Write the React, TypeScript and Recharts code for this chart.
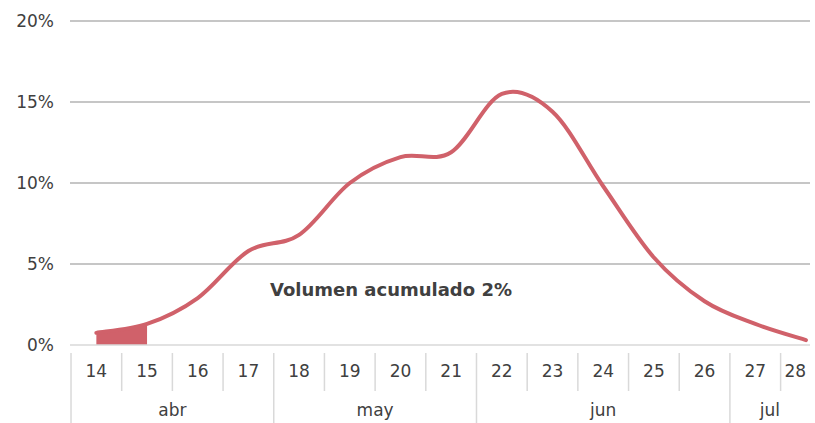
import { ComposedChart, Line, Area, XAxis, YAxis, ReferenceLine } from 'recharts';

// ---- data ----
const DAYS = [14, 15, 16, 17, 18, 19, 20, 21, 22, 23, 24, 25, 26, 27, 28];
const VOLUME = [0.75, 1.3, 2.9, 5.8, 6.8, 10.0, 11.6, 11.9, 15.5, 14.4, 9.8, 5.4, 2.7, 1.3, 0.3];
const ACCUMULATED_DAYS = [14, 15];
const Y_TICKS = [0, 5, 10, 15, 20];
const MONTHS = [
  { label: 'abr', from: 14, to: 17 },
  { label: 'may', from: 18, to: 21 },
  { label: 'jun', from: 22, to: 26 },
  { label: 'jul', from: 27, to: 28 },
];
const NOTE = 'Volumen acumulado 2%';

const data = DAYS.map((day, i) => ({
  day,
  volume: VOLUME[i],
  acc: ACCUMULATED_DAYS.includes(day) ? VOLUME[i] : null,
}));

// ---- layout ----
const W = 815;
const H = 423;
const LEFT = 70;
const RIGHT = 5;
const TOP = 21;
const AXIS_H = 78;
const X_MIN = 13.48;
const X_MAX = 28.08;
const PX_PER_DAY = (W - LEFT - RIGHT) / (X_MAX - X_MIN);

const RED = '#D0616A';
const TEXT = '#404040';
const BORDER = '#D9D9D9';
const GRID = '#B3B3B3';
const FONT = '"DejaVu Sans", sans-serif';

// Excel-style smoothed line (cardinal spline through the points)
const excelCurve = (context: any) => {
  let pts: [number, number][] = [];
  return {
    areaStart() {},
    areaEnd() {},
    lineStart() {
      pts = [];
    },
    point(x: number, y: number) {
      pts.push([x, y]);
    },
    lineEnd() {
      if (!pts.length) return;
      context.moveTo(pts[0][0], pts[0][1]);
      for (let i = 0; i < pts.length - 1; i++) {
        const p0 = pts[i - 1] || pts[i];
        const p1 = pts[i];
        const p2 = pts[i + 1];
        const p3 = pts[i + 2] || p2;
        context.bezierCurveTo(
          p1[0] + (p2[0] - p0[0]) / 6,
          p1[1] + (p2[1] - p0[1]) / 6,
          p2[0] - (p3[0] - p1[0]) / 6,
          p2[1] - (p3[1] - p1[1]) / 6,
          p2[0],
          p2[1]
        );
      }
    },
  };
};

function DayTick(props: any) {
  const { x, y, payload } = props;
  const day = payload.value as number;
  const left = x - PX_PER_DAY / 2;
  const plotRight = W - RIGHT;
  const isLast = day === DAYS[DAYS.length - 1];
  const labelX = isLast ? (left + plotRight) / 2 : x;
  const month = MONTHS.find((m) => m.from === day);
  let monthEl = null;
  if (month) {
    const mRight = Math.min(x + (month.to - month.from + 0.5) * PX_PER_DAY, plotRight);
    monthEl = (
      <text
        x={(left + mRight) / 2}
        y={y + 63}
        textAnchor="middle"
        fill={TEXT}
        fontSize={17}
        fontFamily={FONT}
      >
        {month.label}
      </text>
    );
  }
  return (
    <g>
      <line x1={left} x2={left} y1={y} y2={month ? H : y + 38} stroke={BORDER} strokeWidth={1.5} />
      <text x={labelX} y={y + 24} textAnchor="middle" fill={TEXT} fontSize={17} fontFamily={FONT}>
        {day}
      </text>
      {monthEl}
    </g>
  );
}

export default function App() {
  return (
    <div style={{ position: 'absolute', left: 0, top: 0, width: W, height: H, background: '#fff' }}>
      <ComposedChart
        width={W}
        height={H}
        data={data}
        margin={{ top: TOP, right: RIGHT, left: 0, bottom: 0 }}
      >
        <XAxis
          dataKey="day"
          type="number"
          domain={[X_MIN, X_MAX]}
          ticks={DAYS}
          allowDataOverflow
          height={AXIS_H}
          axisLine={{ stroke: BORDER, strokeWidth: 1.5 }}
          tickLine={false}
          tick={<DayTick />}
          interval={0}
        />
        <YAxis
          domain={[0, 20]}
          ticks={Y_TICKS}
          width={LEFT}
          axisLine={false}
          tickLine={false}
          tickFormatter={(v: number) => `${v}%`}
          tick={{ fill: TEXT, fontSize: 17, fontFamily: FONT }}
          tickMargin={10}
        />
        {Y_TICKS.filter((t) => t > 0).map((t) => (
          <ReferenceLine key={t} y={t} stroke={GRID} strokeWidth={1.5} />
        ))}
        <Area
          dataKey="acc"
          type="linear"
          stroke="none"
          fill={RED}
          fillOpacity={1}
          isAnimationActive={false}
        />
        <Line
          dataKey="volume"
          type={excelCurve as any}
          stroke={RED}
          strokeWidth={4}
          strokeLinecap="round"
          dot={false}
          activeDot={false}
          isAnimationActive={false}
        />
      </ComposedChart>
      <div
        style={{
          position: 'absolute',
          left: 270,
          top: 279,
          fontFamily: FONT,
          fontWeight: 700,
          fontSize: 18,
          color: TEXT,
          whiteSpace: 'nowrap',
        }}
      >
        {NOTE}
      </div>
    </div>
  );
}
